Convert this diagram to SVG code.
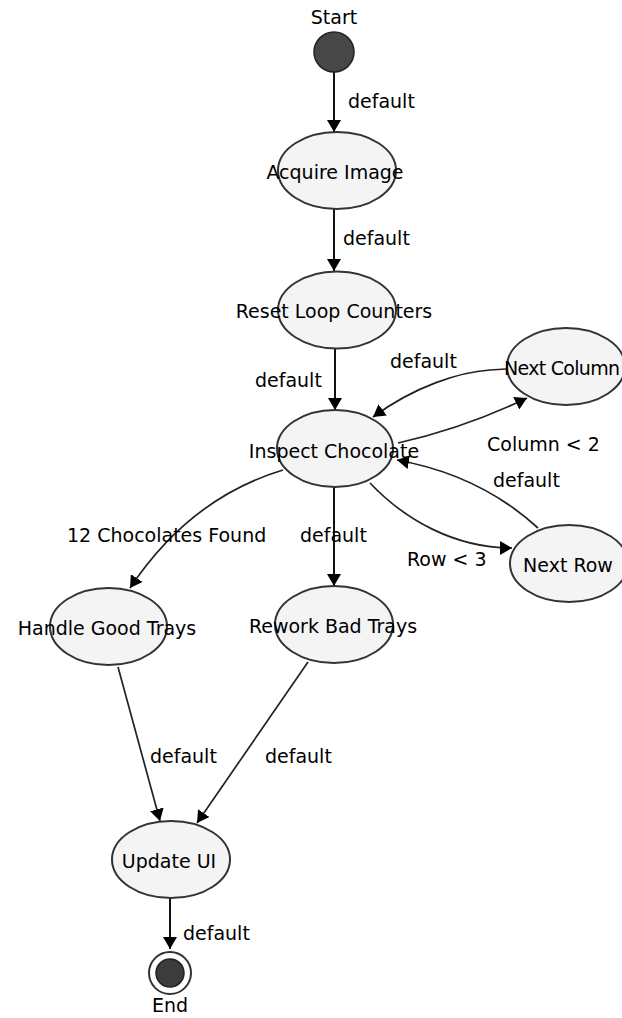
<svg xmlns="http://www.w3.org/2000/svg" width="622" height="1018" viewBox="0 0 622 1018">
  <defs>
    <marker id="arrow" viewBox="0 0 12 14" refX="12" refY="7" markerWidth="12" markerHeight="14" orient="auto" markerUnits="userSpaceOnUse">
      <path d="M0,0 L12,7 L0,14 z" fill="#000"/>
    </marker>
  </defs>
  <style>
    .state { fill: #f4f4f4; stroke: #333; stroke-width: 2; }
    .label { font-family: "DejaVu Sans", Verdana, sans-serif; font-size: 19px; fill: #000; }
    .mid { text-anchor: middle; }
    .edge { fill: none; stroke: #111; stroke-width: 2; marker-end: url(#arrow); }
    .curve { fill: none; stroke: #222; stroke-width: 1.7; marker-end: url(#arrow); }
  </style>
  <rect width="622" height="1018" fill="#fff"/>

  <!-- transitions -->
  <g id="connectors">
    <path class="edge" d="M334,72 L334,132"/>
    <path class="edge" d="M334,209 L334,271"/>
    <path class="edge" d="M335,349 L335,410"/>
    <path class="curve" d="M506,369 L490,370 C460,372 415,386 373,417"/>
    <path class="curve" d="M398,443 Q465,428 527,398"/>
    <path class="curve" d="M538,528 Q480,475 397,460"/>
    <path class="curve" d="M370,483 C405,520 455,548 512,548"/>
    <path class="curve" d="M283,470 Q190,498 130,588"/>
    <path class="edge" d="M334,487 L334,586"/>
    <path class="curve" d="M118,667 L160,821"/>
    <path class="curve" d="M308,662 L197,823"/>
    <path class="edge" d="M170,898 L170,949"/>

    <text class="label" x="348" y="108">default</text>
    <text class="label" x="343" y="245">default</text>
    <text class="label" x="255" y="387">default</text>
    <text class="label" x="390" y="368">default</text>
    <text class="label" x="487" y="451">Column &lt; 2</text>
    <text class="label" x="493" y="487">default</text>
    <text class="label" x="407" y="566">Row &lt; 3</text>
    <text class="label" x="67" y="542">12 Chocolates Found</text>
    <text class="label" x="300" y="542">default</text>
    <text class="label" x="150" y="763">default</text>
    <text class="label" x="265" y="763">default</text>
    <text class="label" x="183" y="940">default</text>
  </g>

  <g id="start">
    <text class="label mid" x="334" y="24">Start</text>
    <circle cx="334" cy="52" r="20" fill="#474747" stroke="#222" stroke-width="1.5"/>
  </g>

  <g id="acquire-image">
    <ellipse class="state" cx="337" cy="170.5" rx="59" ry="38.5"/>
    <text class="label mid" x="335" y="179">Acquire Image</text>
  </g>

  <g id="reset-loop-counters">
    <ellipse class="state" cx="337" cy="310" rx="59" ry="38.5"/>
    <text class="label mid" x="334" y="318">Reset Loop Counters</text>
  </g>

  <g id="inspect-chocolate">
    <ellipse class="state" cx="335" cy="448.5" rx="58" ry="38.5"/>
    <text class="label mid" x="334" y="458">Inspect Chocolate</text>
  </g>

  <g id="next-column">
    <ellipse class="state" cx="566" cy="366.5" rx="59" ry="38.5"/>
    <text class="label" x="504" y="375" letter-spacing="-0.7">Next Column</text>
  </g>

  <g id="next-row">
    <ellipse class="state" cx="569" cy="563.5" rx="59" ry="38.5"/>
    <text class="label mid" x="568" y="572">Next Row</text>
  </g>

  <g id="handle-good-trays">
    <ellipse class="state" cx="108.5" cy="626.5" rx="58.5" ry="38.5"/>
    <text class="label mid" x="107" y="635">Handle Good Trays</text>
  </g>

  <g id="rework-bad-trays">
    <ellipse class="state" cx="334" cy="624.5" rx="59" ry="38.5"/>
    <text class="label mid" x="333" y="633">Rework Bad Trays</text>
  </g>

  <g id="update-ui">
    <ellipse class="state" cx="171" cy="859.5" rx="59" ry="38.5"/>
    <text class="label mid" x="169" y="868">Update UI</text>
  </g>

  <g id="end">
    <circle cx="170" cy="973" r="21" fill="#fff" stroke="#333" stroke-width="2"/>
    <circle cx="170" cy="973" r="14" fill="#3c3c3c" stroke="#222" stroke-width="1.5"/>
    <text class="label mid" x="170" y="1012">End</text>
  </g>
</svg>
